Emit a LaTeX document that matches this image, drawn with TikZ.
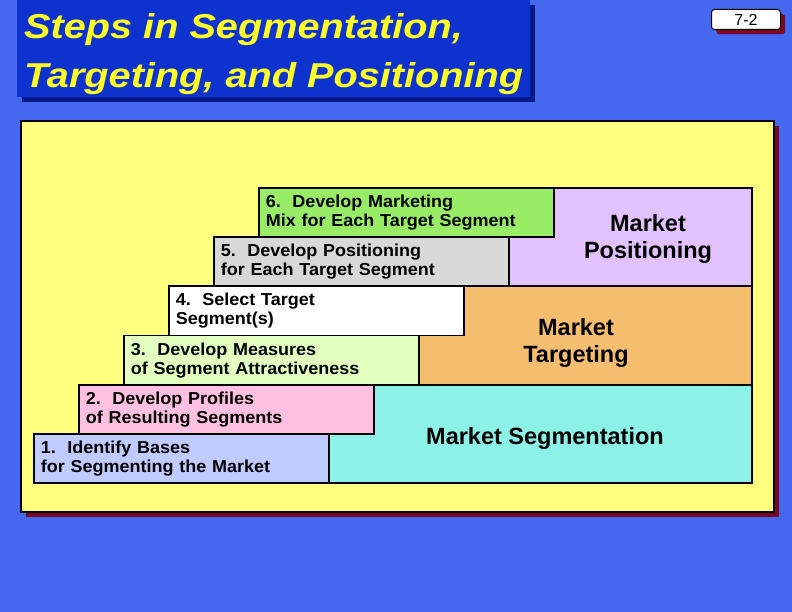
\documentclass[tikz,border=0pt]{standalone}
\usepackage{fontspec}
\setmainfont{Liberation Sans}
\newfontfamily\titlefont[FakeStretch=1.15]{Liberation Sans}
\newfontfamily\stepfont[FakeStretch=1.04]{Liberation Sans}
\definecolor{bgblue}{RGB}{68,104,240}
\definecolor{titleblue}{RGB}{14,50,206}
\definecolor{titleshadow}{RGB}{6,26,140}
\definecolor{titleyellow}{RGB}{255,255,40}
\definecolor{panelyellow}{RGB}{255,255,128}
\definecolor{shadowred}{RGB}{122,8,36}
\definecolor{cOne}{RGB}{192,204,255}
\definecolor{cTwo}{RGB}{255,192,226}
\definecolor{cThree}{RGB}{226,255,192}
\definecolor{cFour}{RGB}{255,255,255}
\definecolor{cFive}{RGB}{216,216,216}
\definecolor{cSix}{RGB}{153,236,102}
\definecolor{cPos}{RGB}{226,194,252}
\definecolor{cTarg}{RGB}{244,190,110}
\definecolor{cSeg}{RGB}{140,242,232}
\begin{document}
\begin{tikzpicture}[x=1pt,y=-1pt,
  stepbox/.style={draw=black, line width=1.8pt, anchor=north west,
    minimum width=295pt, minimum height=49.2pt, text width=281pt,
    inner xsep=7pt, inner ysep=0pt, align=left,
    font=\stepfont\bfseries\fontsize{17.3}{19}\selectfont},
  regionbox/.style={draw=black, line width=1.8pt, anchor=north west, inner sep=0pt},
  bigtext/.style={align=center, inner sep=0pt, font=\bfseries\fontsize{23.5}{26.5}\selectfont},
  titletext/.style={anchor=base west, inner sep=0pt, text=titleyellow,
    font=\titlefont\bfseries\itshape\fontsize{34.5}{40}\selectfont}
]
\useasboundingbox (0,0) rectangle (792,612);
\fill[bgblue] (0,0) rectangle (792,612);

% title
\node[fill=titleshadow, anchor=north west, minimum width=513pt, minimum height=97pt, inner sep=0pt] (tshadow) at (22,5) {};
\node[fill=titleblue, anchor=north west, minimum width=513pt, minimum height=97pt, inner sep=0pt] (tbox) at (17,0) {};
\node[titletext] (t1) at (24,39) {Steps in Segmentation,};
\node[titletext] (t2) at (24,88) {Targeting, and Positioning};

% page number
\node[fill=shadowred, rounded corners=3pt, anchor=north west, minimum width=69pt, minimum height=20pt, inner sep=0pt] (pshadow) at (716,14) {};
\node[draw=black, line width=1pt, fill=white, rounded corners=3pt, anchor=north west, minimum width=69pt, minimum height=20pt, inner sep=0pt, font=\fontsize{16}{18}\selectfont] (pnum) at (711,9) {7-2};

% main panel
\node[fill=shadowred, anchor=north west, minimum width=753pt, minimum height=391pt, inner sep=0pt] (panelshadow) at (26,126) {};
\node[draw=black, line width=1.8pt, fill=panelyellow, anchor=north west, minimum width=753pt, minimum height=391pt, inner sep=0pt] (panel) at (20,120) {};

% regions
\node[regionbox, fill=cPos, minimum width=243pt, minimum height=98.4pt] (rpos) at (508,187) {};
\node[regionbox, fill=cTarg, minimum width=333pt, minimum height=98.4pt] (rtarg) at (418,285.4) {};
\node[regionbox, fill=cSeg, minimum width=423pt, minimum height=98.4pt] (rseg) at (328,383.8) {};

% steps
\node[stepbox, fill=cSix] (s6) at (258,187) {6.\ \ Develop Marketing\\Mix for Each Target Segment};
\node[stepbox, fill=cFive] (s5) at (213,236.2) {5.\ \ Develop Positioning\\for Each Target Segment};
\node[stepbox, fill=cFour] (s4) at (168,285.4) {4.\ \ Select Target\\Segment(s)};
\node[stepbox, fill=cThree] (s3) at (123,334.6) {3.\ \ Develop Measures\\of Segment Attractiveness};
\node[stepbox, fill=cTwo] (s2) at (78,383.8) {2.\ \ Develop Profiles\\of Resulting Segments};
\node[stepbox, fill=cOne] (s1) at (33,433) {1.\ \ Identify Bases\\for Segmenting the Market};

% region labels
\node[bigtext] (lpos) at (648,239) {Market\\Positioning};
\node[bigtext] (ltarg) at (576,343) {Market\\Targeting};
\node[bigtext] (lseg) at (545,438) {Market Segmentation};
\end{tikzpicture}
\end{document}
